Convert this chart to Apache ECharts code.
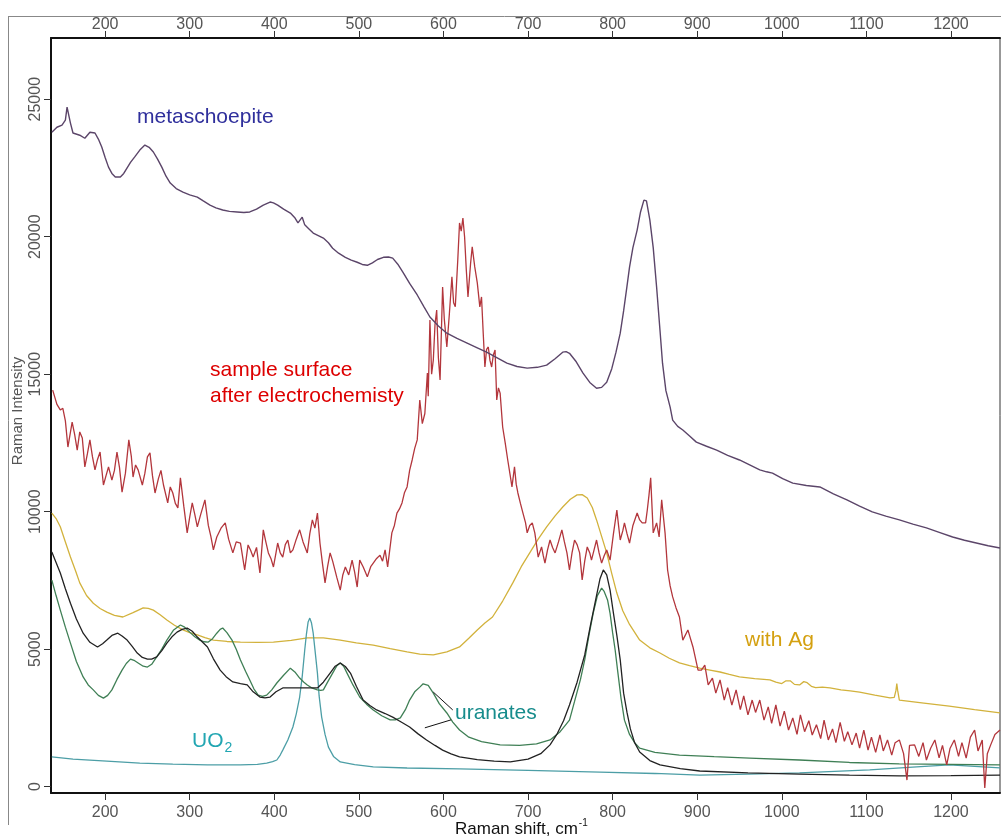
<!DOCTYPE html>
<html>
<head>
<meta charset="utf-8">
<script src="https://cdn.jsdelivr.net/npm/echarts@6/dist/echarts.min.js"></script>
<style>
html,body{margin:0;padding:0;background:#fff;}
#chart{width:1001px;height:839px;}
</style>
</head>
<body>
<div id="chart"></div>
<script>
// ---- tick labels ----
const xTicks = [200, 300, 400, 500, 600, 700, 800, 900, 1000, 1100, 1200];
const yTicks = [0, 5000, 10000, 15000, 20000, 25000];

// ---- series values: [Raman shift (cm-1), intensity] ----
const metaschoepite = [[137,23800],[143,23980],[149,24060],[153,24240],[155,24710],[159,24130],[162,23770],[170,23690],[176,23580],[182,23800],[188,23770],[192,23550],[196,23260],[200,22880],[204,22530],[208,22300],[212,22170],[218,22170],[222,22300],[226,22500],[230,22700],[235,22900],[241,23150],[247,23330],[252,23250],[257,23080],[262,22820],[267,22530],[272,22200],[277,21950],[284,21750],[292,21620],[300,21520],[309,21440],[316,21300],[324,21150],[331,21050],[339,20970],[347,20920],[356,20900],[364,20880],[371,20900],[379,21000],[387,21150],[395,21260],[399,21230],[404,21150],[411,21000],[419,20860],[424,20700],[428,20500],[433,20710],[436,20430],[441,20280],[446,20130],[452,20040],[458,19950],[464,19780],[469,19580],[476,19400],[484,19250],[491,19150],[498,19070],[504,18990],[510,18960],[516,19050],[522,19170],[529,19250],[535,19260],[540,19220],[546,19000],[552,18710],[560,18300],[569,17880],[577,17450],[584,17080],[594,16750],[604,16490],[616,16300],[628,16130],[640,15960],[651,15800],[663,15600],[675,15400],[687,15280],[699,15220],[711,15250],[722,15330],[732,15560],[741,15800],[745,15820],[749,15760],[757,15450],[765,15040],[773,14700],[781,14490],[787,14520],[793,14710],[799,15200],[804,15800],[809,16490],[813,17300],[817,18200],[820,18890],[824,19600],[829,20240],[833,20900],[837,21330],[840,21300],[844,20610],[848,19600],[852,18170],[856,16600],[859,15400],[863,14400],[868,13800],[871,13330],[877,13100],[883,12970],[891,12750],[899,12530],[911,12380],[923,12240],[936,12050],[950,11880],[962,11700],[974,11520],[982,11450],[989,11400],[1001,11200],[1013,11040],[1029,10950],[1045,10900],[1061,10650],[1077,10430],[1092,10200],[1107,9990],[1123,9840],[1139,9700],[1155,9550],[1171,9410],[1187,9240],[1202,9080],[1216,8960],[1230,8860],[1244,8760],[1258,8680]];

const sampleSurface = [[138,14420],[143,13900],[147,13700],[150,13760],[153,13300],[156,12350],[161,13260],[164,12800],[167,12240],[170,12900],[173,12680],[176,11630],[179,12100],[182,12610],[185,12000],[188,11520],[191,11900],[194,12170],[198,10970],[201,11300],[204,11630],[208,11150],[211,11500],[214,12170],[217,11600],[220,10710],[224,11400],[228,12610],[231,12000],[233,11260],[236,11700],[239,11520],[244,10970],[247,11400],[250,11990],[253,12140],[256,11300],[259,10680],[263,11200],[266,11500],[269,10970],[274,10320],[277,10900],[280,10680],[283,10300],[286,10140],[289,11230],[293,10200],[297,9230],[300,9800],[303,10320],[306,9900],[309,9450],[313,9900],[318,10430],[322,9500],[325,9100],[328,8610],[332,9080],[337,9400],[342,9590],[346,9000],[351,8500],[355,8900],[360,8860],[365,7880],[369,8790],[372,8600],[375,8350],[379,8700],[383,7770],[387,9340],[390,8900],[393,8500],[396,8300],[399,7990],[402,8500],[404,8860],[407,8500],[410,8350],[413,8800],[416,8970],[419,8500],[422,8610],[426,9000],[430,9340],[434,8900],[439,8500],[442,9200],[445,9700],[448,9400],[451,9950],[454,8860],[457,8100],[460,7410],[463,8000],[466,8500],[469,8200],[471,8130],[474,7600],[478,7150],[481,7700],[484,7990],[488,7700],[492,8240],[495,7800],[498,7260],[501,8240],[505,8000],[510,7630],[514,8000],[517,8130],[521,8300],[525,8420],[528,8200],[531,8610],[534,7990],[539,9230],[542,9500],[545,9950],[548,10100],[551,10320],[554,10700],[557,10900],[560,11500],[563,11880],[566,12300],[569,12610],[572,14060],[575,13200],[578,13570],[581,15040],[582,14200],[584,16970],[586,15000],[588,15510],[590,16800],[592,17330],[594,15600],[596,14790],[599,18170],[601,17000],[604,15990],[607,17200],[610,18540],[612,17600],[614,17450],[617,19200],[619,20500],[621,20200],[623,20680],[625,19990],[627,18800],[629,17810],[632,19000],[634,19630],[637,18900],[640,18320],[643,17450],[645,17810],[647,16500],[649,15260],[651,15900],[653,15990],[655,15500],[657,15260],[659,15700],[661,15880],[663,14060],[665,14500],[667,14310],[670,13080],[673,12500],[676,11880],[679,11300],[681,10900],[684,11630],[686,11000],[688,10680],[691,10300],[694,9950],[697,9600],[699,9230],[702,9500],[705,9590],[708,9230],[710,8800],[712,8350],[716,8720],[718,8400],[720,8130],[723,8600],[726,8970],[729,8700],[732,8500],[736,8900],[740,9340],[743,8900],[746,8500],[749,7880],[752,8500],[755,8970],[758,8800],[761,8500],[764,7520],[767,8200],[770,8720],[773,8500],[775,8240],[778,8600],[781,8970],[784,8500],[787,8130],[790,8400],[793,8610],[797,8240],[801,9200],[805,10060],[807,9500],[809,8970],[812,9300],[814,9590],[817,9200],[820,8860],[824,9500],[829,9950],[832,9700],[835,9590],[839,9590],[841,10060],[843,10600],[845,11230],[848,9230],[852,9590],[855,9080],[858,10430],[862,9230],[865,7880],[868,7300],[871,6900],[875,6500],[879,6170],[883,5330],[889,5700],[895,5080],[901,4240],[905,4240],[909,4420],[913,3700],[918,3950],[922,3400],[927,3880],[932,3150],[936,3600],[941,2970],[946,3520],[951,2800],[955,3300],[960,2610],[965,3150],[969,2700],[974,3150],[979,2420],[984,2900],[988,2300],[993,2970],[998,2200],[1003,2750],[1008,2060],[1013,2500],[1018,1900],[1022,2610],[1027,2000],[1032,2400],[1036,1880],[1041,2250],[1046,1750],[1050,2420],[1055,1700],[1060,2100],[1064,1600],[1069,2340],[1074,1650],[1078,2000],[1083,1520],[1088,1950],[1092,1400],[1097,2060],[1102,1330],[1106,1800],[1111,1250],[1116,1880],[1120,1300],[1125,1700],[1130,1150],[1134,1600],[1139,1700],[1144,1200],[1148,240],[1151,1500],[1157,1520],[1162,1100],[1167,1600],[1171,970],[1176,1400],[1181,1700],[1186,1050],[1190,1500],[1195,790],[1199,1400],[1204,1700],[1209,1100],[1213,1600],[1218,1040],[1223,1800],[1228,2060],[1232,1300],[1237,1700],[1240,-50],[1243,1200],[1247,1520],[1252,1900],[1258,2060]];

const withAg = [[137,9950],[142,9750],[147,9450],[153,8900],[159,8350],[165,7850],[170,7410],[178,6950],[186,6670],[194,6480],[202,6350],[211,6230],[221,6170],[233,6330],[245,6500],[251,6480],[257,6420],[265,6250],[273,6060],[282,5870],[292,5700],[300,5600],[309,5520],[318,5420],[328,5330],[344,5280],[360,5260],[380,5250],[399,5260],[420,5320],[439,5410],[458,5410],[478,5330],[497,5230],[517,5150],[537,5020],[557,4900],[572,4820],[588,4790],[604,4900],[619,5080],[630,5400],[640,5700],[649,5950],[658,6170],[670,6750],[682,7410],[692,8000],[702,8500],[712,9000],[722,9450],[732,9850],[741,10170],[750,10450],[758,10610],[764,10620],[770,10500],[776,10150],[781,9700],[787,9100],[793,8500],[799,7750],[805,7040],[812,6400],[820,5900],[832,5330],[844,5050],[856,4860],[867,4670],[879,4500],[891,4400],[903,4310],[915,4240],[927,4170],[938,4080],[950,3990],[968,3930],[986,3880],[993,3800],[1000,3750],[1005,3850],[1010,3850],[1015,3720],[1021,3700],[1026,3820],[1030,3780],[1035,3650],[1040,3600],[1048,3620],[1057,3590],[1070,3520],[1081,3480],[1092,3440],[1110,3330],[1128,3230],[1133,3250],[1135,3500],[1136,3750],[1137,3500],[1139,3150],[1168,3040],[1198,2930],[1228,2800],[1258,2680]];

const uranateA = [[137,8530],[142,8150],[147,7770],[153,7200],[159,6670],[166,6100],[174,5580],[182,5250],[191,5080],[197,5200],[202,5330],[208,5500],[215,5580],[220,5480],[226,5330],[232,5100],[238,4860],[244,4700],[250,4640],[255,4640],[261,4720],[267,4950],[273,5220],[279,5450],[285,5620],[291,5720],[297,5770],[303,5650],[309,5440],[315,5260],[321,5080],[328,4650],[336,4240],[343,4000],[351,3810],[360,3750],[368,3700],[375,3450],[383,3260],[389,3230],[395,3260],[402,3450],[410,3590],[420,3590],[430,3590],[441,3590],[451,3590],[458,3800],[466,4130],[472,4380],[478,4500],[484,4370],[490,4130],[497,3650],[505,3150],[513,2950],[521,2790],[531,2660],[540,2530],[550,2350],[560,2170],[570,1920],[580,1700],[590,1500],[599,1330],[609,1190],[619,1080],[640,980],[660,930],[679,900],[700,1000],[715,1200],[726,1520],[734,1900],[742,2400],[749,2970],[758,3800],[767,4790],[774,5900],[780,6800],[785,7550],[789,7880],[793,7700],[797,7150],[801,6300],[805,5500],[809,4610],[813,3400],[817,2700],[821,2100],[826,1600],[832,1260],[844,950],[856,790],[880,660],[903,570],[960,500],[1021,460],[1080,420],[1139,390],[1200,400],[1258,420]];

const uranateB = [[137,7510],[142,6950],[147,6420],[153,5800],[159,5220],[166,4550],[174,3990],[180,3700],[186,3520],[192,3320],[198,3220],[203,3320],[208,3520],[214,3900],[220,4240],[225,4480],[230,4640],[235,4580],[239,4500],[245,4380],[250,4350],[255,4450],[261,4720],[267,5000],[273,5330],[281,5700],[289,5880],[294,5800],[300,5620],[306,5450],[312,5330],[317,5270],[322,5260],[327,5380],[332,5580],[336,5720],[339,5770],[344,5600],[350,5330],[355,5000],[360,4610],[366,4200],[371,3880],[376,3550],[381,3330],[386,3280],[391,3330],[397,3520],[403,3770],[411,4050],[419,4310],[425,4150],[430,3950],[435,3800],[439,3700],[445,3580],[451,3520],[455,3500],[458,3520],[463,3800],[469,4130],[474,4400],[478,4500],[482,4380],[486,4130],[493,3700],[501,3260],[509,3000],[517,2790],[527,2580],[537,2430],[543,2430],[549,2500],[555,2800],[560,3150],[566,3450],[572,3620],[576,3740],[578,3770],[582,3680],[588,3400],[595,3020],[604,2680],[611,2350],[619,2060],[630,1800],[645,1640],[667,1520],[690,1500],[710,1560],[726,1700],[738,2000],[749,2420],[755,3100],[762,3900],[767,4610],[772,5500],[777,6300],[782,6950],[787,7220],[790,7100],[794,6790],[797,6300],[800,5600],[803,4970],[806,4200],[810,3200],[814,2420],[820,1900],[826,1600],[832,1400],[850,1250],[879,1150],[920,1090],[962,1040],[1021,970],[1080,880],[1139,830],[1200,810],[1258,790]];

const uo2 = [[137,1080],[162,1000],[202,930],[241,860],[280,820],[321,790],[360,790],[380,810],[391,860],[398,910],[403,970],[407,1150],[410,1330],[416,1700],[422,2170],[426,2650],[430,3260],[433,4000],[436,4970],[438,5550],[440,5990],[442,6130],[444,5950],[446,5580],[448,5000],[451,4130],[453,3300],[456,2530],[460,1900],[464,1440],[470,1100],[478,900],[495,800],[517,720],[557,680],[619,650],[700,590],[785,530],[850,480],[903,420],[960,460],[1021,500],[1104,610],[1150,700],[1198,790],[1258,680]];

// leader lines of the "uranates" label (data coordinates)
const uranateLeaders = [[[588,3440],[611,2790]], [[578,2140],[609,2430]]];

const X_MIN = 136, X_MAX = 1258, Y_MIN = -230, Y_MAX = 27225;

const chart = echarts.init(document.getElementById('chart'), null, {renderer: 'canvas'});

const FONT = 'Liberation Sans, Arial, sans-serif';
const tickFont = {fontFamily: FONT, fontSize: 16, color: '#555', formatter: v => String(v)};
const axisLineStyle = {color: '#111', width: 2};

function lineSeries(name, data, color, width, extra) {
  return Object.assign({
    name, type: 'line', data, showSymbol: false, symbol: 'none',
    xAxisIndex: 0, yAxisIndex: 0,
    lineStyle: {color, width}, itemStyle: {color},
    animation: false, silent: true
  }, extra || {});
}

// measure text width so the sub/superscripts sit right after their base text
const measureCtx = document.createElement('canvas').getContext('2d');
function textWidth(text, size) { measureCtx.font = size + 'px ' + FONT; return measureCtx.measureText(text).width; }

function txt(text, x, y, color, size) {
  return {type: 'text', x, y, silent: true, z: 100,
    style: {text, fill: color, font: size + 'px ' + FONT, align: 'left', verticalAlign: 'middle'}};
}

const titleX = 455, titleText = 'Raman shift, cm';
const uoX = 192;

chart.setOption({
  backgroundColor: '#fff',
  animation: false,
  grid: {left: 51, right: 1, top: 38, bottom: 46, show: true, borderColor: '#333', borderWidth: 1, backgroundColor: 'transparent'},
  xAxis: [
    {type: 'value', position: 'bottom', min: X_MIN, max: X_MAX,
     axisLine: {show: true, onZero: false, lineStyle: axisLineStyle},
     axisTick: {show: true, length: 7, customValues: xTicks, lineStyle: {color: '#333'}},
     axisLabel: Object.assign({show: true, margin: 12, customValues: xTicks}, tickFont),
     splitLine: {show: false}},
    {type: 'value', position: 'top', min: X_MIN, max: X_MAX,
     axisLine: {show: true, onZero: false, lineStyle: axisLineStyle},
     axisTick: {show: true, length: 7, customValues: xTicks, lineStyle: {color: '#333'}},
     axisLabel: Object.assign({show: true, margin: 5, customValues: xTicks}, tickFont),
     splitLine: {show: false}}
  ],
  yAxis: [
    {type: 'value', min: Y_MIN, max: Y_MAX,
     axisLine: {show: true, onZero: false, lineStyle: axisLineStyle},
     axisTick: {show: true, length: 7, customValues: yTicks, lineStyle: {color: '#333'}},
     axisLabel: Object.assign({show: true, rotate: 90, margin: 7, customValues: yTicks}, tickFont),
     splitLine: {show: false}}
  ],
  series: [
    lineSeries('with Ag', withAg, '#d2b23c', 1.3),
    lineSeries('UO2', uo2, '#4c9ea6', 1.3),
    lineSeries('uranate B', uranateB, '#3f7f55', 1.3),
    lineSeries('uranate A', uranateA, '#222222', 1.3, {
      markLine: {silent: true, symbol: ['none', 'none'], animation: false,
        lineStyle: {color: '#111', width: 1, type: 'solid'}, label: {show: false},
        data: uranateLeaders.map(p => [{coord: p[0]}, {coord: p[1]}])}
    }),
    lineSeries('sample surface', sampleSurface, '#b3363c', 1.3),
    lineSeries('metaschoepite', metaschoepite, '#5b4569', 1.4)
  ],
  graphic: [
    {type: 'line', silent: true, shape: {x1: 8, y1: 16.5, x2: 1001, y2: 16.5}, style: {stroke: '#888', lineWidth: 1}},
    {type: 'line', silent: true, shape: {x1: 8.5, y1: 16, x2: 8.5, y2: 825}, style: {stroke: '#888', lineWidth: 1}},
    txt('metaschoepite', 137, 117, '#2f2f9c', 21),
    txt('sample surface', 210, 370, '#dd0000', 21),
    txt('after electrochemisty', 210, 396, '#dd0000', 21),
    txt('with Ag', 745, 640, '#d4a010', 21),
    txt('uranates', 455, 713, '#178c8c', 21),
    txt('UO', uoX, 741, '#22a6b2', 21),
    txt('2', uoX + textWidth('UO', 21) + 1, 748, '#22a6b2', 14),
    txt(titleText, titleX, 829, '#111', 17),
    txt('-1', titleX + textWidth(titleText, 17) + 1, 823, '#111', 10),
    {type: 'text', silent: true, x: 18, y: 411, rotation: Math.PI / 2,
     style: {text: 'Raman Intensity', fill: '#555', font: '15px ' + FONT, align: 'center', verticalAlign: 'middle'}}
  ]
});
</script>
</body>
</html>
